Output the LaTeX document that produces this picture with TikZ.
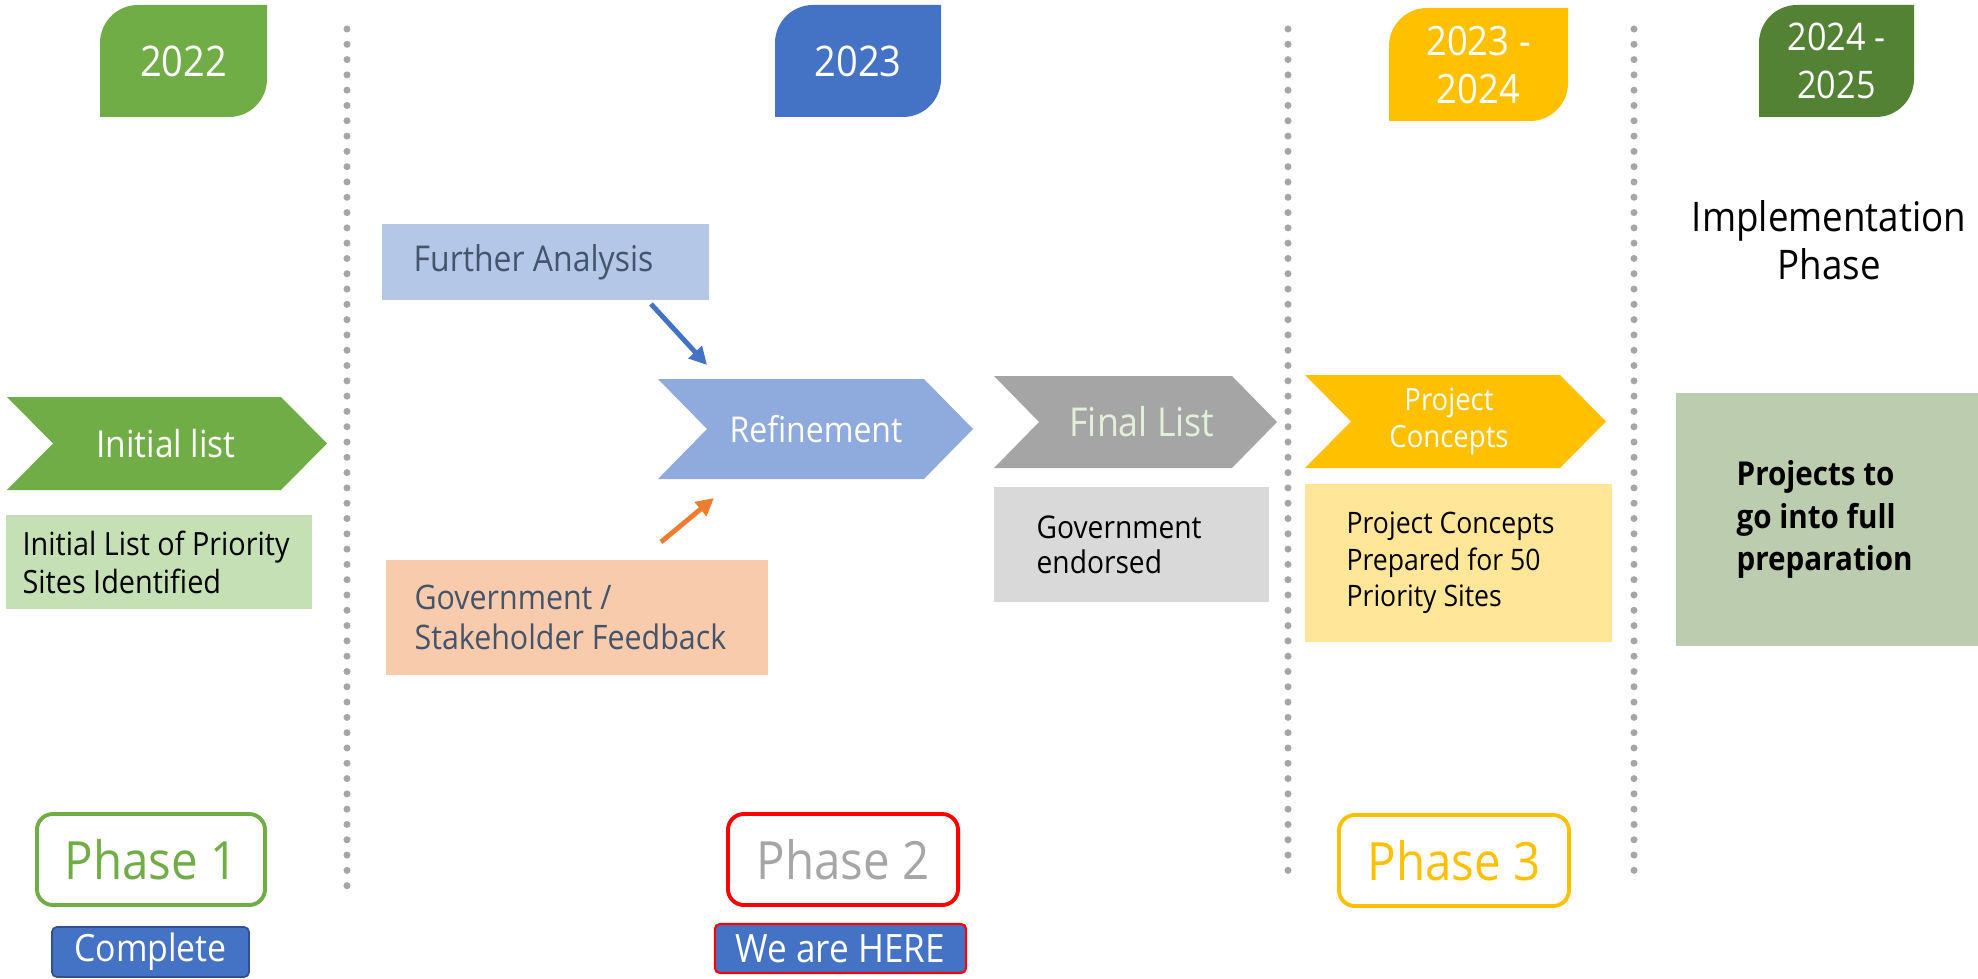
\documentclass[tikz,border=0pt]{standalone}
\usepackage{fontspec}
\setmainfont{Open Sans}[FakeStretch=0.9]
\usetikzlibrary{arrows.meta}
\definecolor{gA}{HTML}{70AD47}
\definecolor{bA}{HTML}{4472C4}
\definecolor{goldA}{HTML}{FFC000}
\definecolor{dgA}{HTML}{548235}
\definecolor{lgbox}{HTML}{C5E0B4}
\definecolor{fabox}{HTML}{B4C7E7}
\definecolor{peach}{HTML}{F8CBAD}
\definecolor{refc}{HTML}{8FAADC}
\definecolor{finc}{HTML}{A5A5A5}
\definecolor{fintxt}{HTML}{E2F0D9}
\definecolor{endbox}{HTML}{D9D9D9}
\definecolor{ybox}{HTML}{FFE699}
\definecolor{prepc}{RGB}{188,204,174}
\definecolor{slate}{HTML}{44546A}
\definecolor{dotg}{HTML}{A6A6A6}
\definecolor{oran}{HTML}{ED7D31}
\definecolor{dblue}{HTML}{2F528F}
\newcommand\fsz[2]{\fontsize{#1pt}{#2pt}\selectfont}
\newcommand\yeartab[5]{%
  \fill[#5] (#1,#4) -- (#1,{#2+38}) .. controls (#1,{#2+17}) and ({#1+17},#2) .. ({#1+38},#2)
    -- (#3,#2) -- (#3,{#4-38}) .. controls (#3,{#4-17}) and ({#3-17},#4) .. ({#3-38},#4) -- cycle;}
\newcommand\chevron[6]{%
  \fill[#6] (#1,#2) -- (#5,#2) -- ({#5+#4},{(#2+#3)/2}) -- (#5,#3) -- (#1,#3) -- ({#1+#4},{(#2+#3)/2}) -- cycle;}
\begin{document}
\begin{tikzpicture}[x=0.01cm,y=-0.01cm,
  dotline/.style={draw=dotg, line width=2pt, line cap=round, dash pattern=on 0pt off 4.35pt},
  yeartxt/.style={text=white, align=center, inner sep=0pt},
  boxbg/.style={inner sep=0pt, outer sep=0pt},
  txt/.style={align=left, inner sep=0pt, anchor=west},
  phasebox/.style={draw, line width=1.1pt, rounded corners=0.16cm, minimum width=2.28cm, minimum height=0.91cm, inner sep=0pt, font=\fsz{15}{18}},
  tag/.style={text=white, rounded corners=0.05cm, inner sep=0pt},
  arr/.style={line width=1.4pt, -{Triangle[length=5pt,width=5pt]}}
]
\useasboundingbox (0,0) rectangle (1978,979);
% dotted separators
\coordinate (d1t) at (347,29); \coordinate (d1b) at (347,892);
\coordinate (d2t) at (1288,29); \coordinate (d2b) at (1288,877);
\coordinate (d3t) at (1634,29); \coordinate (d3b) at (1634,877);
\draw[dotline] (d1t) -- (d1b);
\draw[dotline] (d2t) -- (d2b);
\draw[dotline] (d3t) -- (d3b);
% year tabs
\yeartab{100}{5}{267}{117}{gA}
\node[yeartxt, font=\fsz{12}{14}] (y1) at (183.5,61) {2022};
\yeartab{775}{5}{941}{117}{bA}
\node[yeartxt, font=\fsz{12}{14}] (y2) at (858,61) {2023};
\yeartab{1389}{8}{1568}{121}{goldA}
\node[yeartxt, font=\fsz{11.5}{13.4}] (y3) at (1478.5,65) {2023 -\\2024};
\yeartab{1759}{5}{1914}{117}{dgA}
\node[yeartxt, font=\fsz{10.8}{13.6}] (y4) at (1836.5,61) {2024 -\\2025};
% chevrons
\chevron{7}{397}{490}{46}{281}{gA}
\node[text=white, inner sep=0pt, font=\fsz{10.6}{13}] (initial) at (166,443.5) {Initial list};
\chevron{658}{379}{479}{49}{924}{refc}
\node[text=white, inner sep=0pt, font=\fsz{10.1}{12}] (refine) at (816,429) {Refinement};
\chevron{994}{376}{468}{45}{1232}{finc}
\node[text=fintxt, inner sep=0pt, font=\fsz{11.3}{13}] (final) at (1142,422) {Final List};
\chevron{1305}{375}{468}{46}{1560}{goldA}
\node[text=white, inner sep=0pt, align=center, font=\fsz{8.7}{10.5}] (project) at (1449,421.5) {Project\\Concepts};
% boxes
\node[boxbg, fill=lgbox, minimum width=3.06cm, minimum height=0.94cm] (initbox) at (159,562) {};
\node[txt, font=\fsz{9.1}{10.8}] (inittxt) at ([xshift=0.16cm]initbox.west) {Initial List of Priority\\Sites Identified};
\node[boxbg, fill=fabox, minimum width=3.27cm, minimum height=0.76cm] (fabox) at (545.5,262) {};
\node[txt, text=slate, font=\fsz{10.1}{12}] (fatxt) at ([xshift=0.31cm]fabox.west) {Further Analysis};
\node[boxbg, fill=peach, minimum width=3.82cm, minimum height=1.15cm] (govbox) at (577,617.5) {};
\node[txt, text=slate, font=\fsz{9.6}{11.4}] (govtxt) at ([xshift=0.28cm]govbox.west) {Government /\\Stakeholder Feedback};
\node[boxbg, fill=endbox, minimum width=2.75cm, minimum height=1.15cm] (endbox) at (1131.5,544.5) {};
\node[txt, font=\fsz{8.9}{10}] (endtxt) at ([xshift=0.42cm]endbox.west) {Government\\endorsed};
\node[boxbg, fill=ybox, minimum width=3.07cm, minimum height=1.58cm] (cbox) at (1458.5,563) {};
\node[txt, font=\fsz{8.4}{10.4}] (ctxt) at ([xshift=0.41cm]cbox.west) {Project Concepts\\Prepared for 50\\Priority Sites};
\node[boxbg, fill=prepc, minimum width=3.02cm, minimum height=2.53cm] (pbox) at (1827,519.5) {};
\node[txt, font=\bfseries\fsz{9.35}{12}] (ptxt) at ([xshift=0.6cm]pbox.west) {Projects to\\go into full\\preparation};
\node[inner sep=0pt, align=center, font=\fsz{11.6}{13.7}] (impl) at (1829,240) {Implementation\\Phase};
% arrows
\coordinate (a1s) at (651,304); \coordinate (a1e) at (707,365);
\draw[arr, bA] (a1s) -- (a1e);
\coordinate (a2s) at (661,542); \coordinate (a2e) at (714,498);
\draw[arr, oran] (a2s) -- (a2e);
% phases
\node[phasebox, draw=gA, text=gA] (ph1) at (151,859.5) {Phase 1};
\node[phasebox, draw=red, text=dotg, minimum width=2.30cm] (ph2) at (843,859.5) {Phase 2};
\node[phasebox, draw=goldA, text=goldA, minimum width=2.30cm] (ph3) at (1454,860.5) {Phase 3};
\node[tag, fill=bA, draw=dblue, line width=0.5pt, minimum width=1.97cm, minimum height=0.50cm, font=\fsz{10.7}{12}] (done) at (150.5,952) {Complete};
\node[tag, fill=bA, draw=red, line width=0.6pt, minimum width=2.51cm, minimum height=0.49cm, font=\fsz{11.1}{12}] (here) at (840.5,948.5) {We are HERE};
\end{tikzpicture}
\end{document}
